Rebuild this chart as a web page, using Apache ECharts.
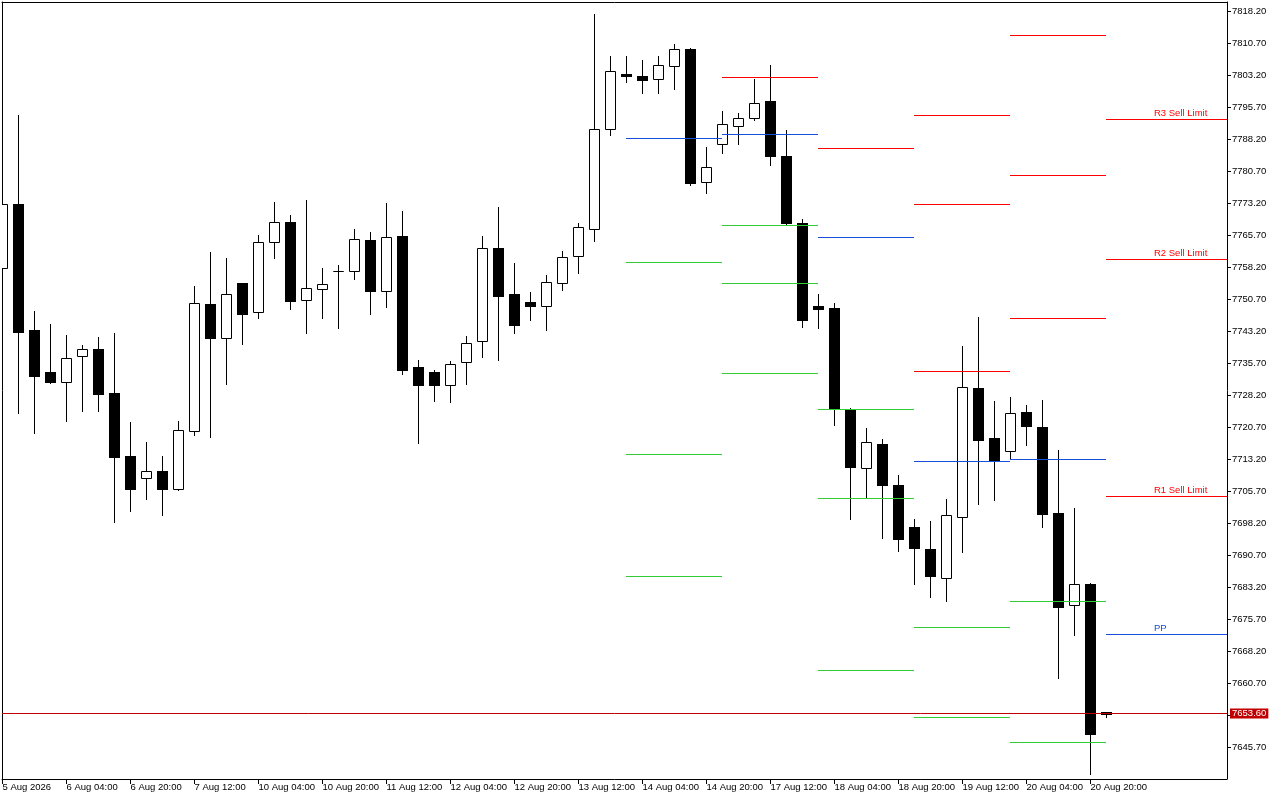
<!DOCTYPE html>
<html><head><meta charset="utf-8">
<script src="https://cdn.jsdelivr.net/npm/echarts@6/dist/echarts.min.js"></script>
<style>html,body{margin:0;padding:0;background:#fff}#c{width:1280px;height:800px}</style>
</head><body><div id="c"></div>
<script>
// ---- data (H4 bars, 5 Aug 12:00 .. 21 Aug 00:00) ----
const opens  = [7758.0,7773.2,7743.5,7733.6,7731.3,7737.4,7739.2,7728.7,7714.0,7708.9,
                7710.5,7706.3,7719.9,7749.6,7741.7,7754.5,7747.7,7764.3,7768.8,7750.7,
                7753.1,7757.4,7757.3,7764.6,7752.6,7765.6,7734.8,7733.8,7730.6,7736.0,
                7740.9,7762.9,7751.9,7750.1,7749.2,7754.6,7760.8,7767.2,7790.6,7803.6,
                7803.1,7802.5,7805.4,7809.4,7778.3,7787.2,7791.5,7793.2,7797.3,7784.4,
                7768.6,7749.2,7748.7,7725.0,7711.3,7716.9,7707.1,7697.3,7692.3,7685.5,
                7699.8,7729.9,7718.2,7715.1,7724.3,7720.9,7700.6,7679.0,7684.1,7653.9];
const highs  = [7775.0,7794.0,7748.0,7744.9,7742.4,7740.0,7741.9,7742.8,7722.0,7717.3,
                7714.0,7722.2,7753.9,7761.8,7760.4,7754.6,7765.8,7773.6,7770.5,7774.0,
                7758.0,7758.8,7767.2,7766.5,7773.3,7771.4,7736.5,7734.1,7736.2,7742.1,
                7765.6,7772.4,7759.2,7752.4,7756.4,7762.1,7768.6,7817.7,7807.8,7807.8,
                7806.9,7807.8,7810.6,7809.8,7786.5,7794.9,7794.4,7802.4,7805.7,7790.5,
                7769.7,7751.9,7749.8,7725.2,7720.5,7718.0,7709.5,7699.2,7698.7,7703.9,
                7739.8,7746.6,7726.9,7727.8,7725.9,7727.1,7715.4,7701.7,7684.2,7653.9];
const lows   = [7756.0,7724.1,7719.3,7731.2,7722.3,7724.6,7724.6,7698.6,7701.1,7704.0,
                7700.1,7706.0,7718.9,7718.5,7730.9,7740.3,7746.4,7760.5,7748.5,7742.8,
                7746.4,7744.1,7755.5,7747.4,7749.0,7733.3,7717.0,7727.0,7726.7,7730.9,
                7737.3,7736.5,7742.9,7746.0,7743.5,7753.0,7757.0,7764.5,7789.3,7801.8,
                7799.2,7799.2,7800.1,7777.6,7775.7,7785.1,7787.2,7792.9,7782.3,7768.2,
                7744.3,7744.1,7721.3,7699.3,7704.2,7694.8,7691.8,7684.1,7681.0,7680.1,
                7691.4,7702.8,7703.7,7713.4,7716.6,7697.4,7662.0,7672.1,7639.5,7652.9];
const closes = [7773.2,7743.1,7732.8,7731.4,7737.1,7739.2,7728.5,7713.8,7706.3,7710.5,
                7706.3,7720.2,7749.8,7741.7,7752.1,7747.4,7764.3,7768.8,7750.4,7753.3,
                7754.3,7757.4,7764.8,7752.8,7765.3,7734.2,7730.7,7730.7,7735.7,7740.6,
                7762.9,7751.6,7744.8,7749.2,7754.7,7760.6,7767.6,7790.6,7804.3,7803.2,
                7802.2,7805.6,7809.4,7778.1,7781.7,7791.8,7793.2,7796.9,7784.4,7768.7,
                7746.0,7748.4,7725.0,7711.5,7717.2,7707.2,7694.6,7692.5,7685.9,7700.1,
                7730.1,7717.8,7712.8,7724.0,7721.1,7700.4,7678.6,7684.1,7648.8,7653.6];

const xTickIndex  = [0,4,8,12,16,20,24,28,32,36,40,44,48,52,56,60,64,68];
const xTickLabels = ['5 Aug 2026','6 Aug 04:00','6 Aug 20:00','7 Aug 12:00','10 Aug 04:00','10 Aug 20:00',
                     '11 Aug 12:00','12 Aug 04:00','12 Aug 20:00','13 Aug 12:00','14 Aug 04:00','14 Aug 20:00',
                     '17 Aug 12:00','18 Aug 04:00','18 Aug 20:00','19 Aug 12:00','20 Aug 04:00','20 Aug 20:00'];

const yTickValues  = [7645.7,7653.2,7660.7,7668.2,7675.7,7683.2,7690.7,7698.2,7705.7,7713.2,7720.7,7728.2,
                      7735.7,7743.2,7750.7,7758.2,7765.7,7773.2,7780.7,7788.2,7795.7,7803.2,7810.7,7818.2];
const yLabelValues = [7645.7,7660.7,7668.2,7675.7,7683.2,7690.7,7698.2,7705.7,7713.2,7720.7,7728.2,
                      7735.7,7743.2,7750.7,7758.2,7765.7,7773.2,7780.7,7788.2,7795.7,7803.2,7810.7,7818.2];

// daily pivot segments: start bar of each day (14,17,18,19,20,21 Aug)
const pivotDayStart = [39,45,51,57,63,69];
const pivotR3 = [null,   null,   null,   7793.9, 7812.6, 7792.8];
const pivotR2 = [null,   null,   null,   7773.0, 7779.7, 7760.2];
const pivotR1 = [null,   7802.8, 7786.2, 7733.8, 7746.3, 7704.5];
const pivotPP = [7788.5, 7789.4, 7765.3, 7712.7, 7713.3, 7672.1];
const pivotS1 = [7759.3, 7768.1, 7724.9, 7673.8, 7679.8, null];
const pivotS2 = [7714.4, 7754.5, 7704.1, 7652.7, 7646.8, null];
const pivotS3 = [7685.8, 7733.4, 7663.7, null,   null,   null];

const levelLabels      = ['R3 Sell Limit','R2 Sell Limit','R1 Sell Limit','PP'];
const levelLabelValues = [7792.8, 7760.2, 7704.5, 7672.1];
const levelLabelBar    = 72;
const currentPrice = 7653.60;

// ---- layout ----
const yMin = 7638.27, yMax = 7820.47;
const xMin = -0.03125, xMax = 76.53125;
const FONT = "'Liberation Sans', Arial, sans-serif";
const FS = 9.5;
const RED = '#FF0000', BLUE = '#1450DC', GREEN = '#32CD32';

const candleData = opens.map((o,i)=>[i,o,highs[i],lows[i],closes[i]]);
const dayEnd = pivotDayStart.map((s,d)=> d<pivotDayStart.length-1 ? pivotDayStart[d+1] : xMax);
const levelDefs = [[pivotR3,0],[pivotR2,0],[pivotR1,0],[pivotPP,1],[pivotS1,2],[pivotS2,2],[pivotS3,2]];
const colors = [RED, BLUE, GREEN];
const pivotData = [];
levelDefs.forEach(([arr,ci])=>arr.forEach((v,d)=>{ if(v!=null) pivotData.push([pivotDayStart[d], dayEnd[d], v, ci]); }));
const labelData = levelLabels.map((t,k)=>[levelLabelBar, levelLabelValues[k], k]);

function renderCandle(params, api){
  const i=api.value(0), o=api.value(1), h=api.value(2), l=api.value(3), c=api.value(4);
  const pO=api.coord([i,o]), pH=api.coord([i,h]), pL=api.coord([i,l]), pC=api.coord([i,c]);
  const cx = Math.floor(pO[0]) + 0.5;
  const yTop = Math.round(Math.min(pO[1],pC[1])), yBot = Math.round(Math.max(pO[1],pC[1]));
  const children = [{type:'line', shape:{x1:cx,y1:Math.round(pH[1]),x2:cx,y2:Math.round(pL[1])+1}, style:{stroke:'#000',lineWidth:1}}];
  if (c >= o) {
    children.push({type:'rect', shape:{x:cx-5, y:yTop+0.5, width:10, height:Math.max(yBot-yTop,0)}, style:{fill:'#fff', stroke:'#000', lineWidth:1}});
  } else {
    children.push({type:'rect', shape:{x:cx-5.5, y:yTop, width:11, height:Math.max(yBot-yTop+1,1)}, style:{fill:'#000', stroke:null}});
  }
  return {type:'group', children};
}
function renderPivot(params, api){
  const s=api.value(0), e=api.value(1), v=api.value(2), ci=api.value(3);
  const p1=api.coord([s,v]), p2=api.coord([e,v]);
  const y = Math.floor(p1[1]) + 0.5;
  return {type:'line', shape:{x1:Math.floor(p1[0]), y1:y, x2:Math.floor(p2[0]), y2:y}, style:{stroke:colors[ci], lineWidth:1}};
}
function renderLabel(params, api){
  const k=api.value(2);
  const p=api.coord([api.value(0), api.value(1)]);
  return {type:'text', x:Math.floor(p[0]), y:Math.floor(p[1])-1,
    style:{text:levelLabels[k], fill: k===3?BLUE:RED, fontSize:FS, fontFamily:FONT, align:'left', verticalAlign:'bottom'}};
}

const chart = echarts.init(document.getElementById('c'), null, {renderer:'canvas', devicePixelRatio:1});
chart.setOption({
  animation:false,
  backgroundColor:'#fff',
  grid:{left:2, top:2, right:53, bottom:21, containLabel:false, outerBoundsMode:'none'},
  xAxis:[
    {type:'value', min:xMin, max:xMax, position:'bottom',
     axisLine:{show:true, onZero:false, lineStyle:{color:'#000', width:1}},
     axisTick:{show:true, customValues:xTickIndex, length:5, lineStyle:{color:'#000'}},
     axisLabel:{show:true, customValues:xTickIndex, align:'left', margin:3, color:'#000', fontSize:FS, fontFamily:FONT,
       formatter:(v)=>{const k=xTickIndex.indexOf(Math.round(v)); return k>=0?xTickLabels[k]:'';}},
     splitLine:{show:false}},
    {type:'value', min:xMin, max:xMax, position:'top',
     axisLine:{show:true, onZero:false, lineStyle:{color:'#000', width:1}},
     axisTick:{show:false}, axisLabel:{show:false}, splitLine:{show:false}}
  ],
  yAxis:[
    {type:'value', min:yMin, max:yMax, position:'right', scale:true,
     axisLine:{show:true, onZero:false, lineStyle:{color:'#000', width:1}},
     axisTick:{show:true, customValues:yTickValues, length:4, lineStyle:{color:'#000'}},
     axisLabel:{show:true, customValues:yLabelValues, margin:5, color:'#000', fontSize:FS, fontFamily:FONT,
       formatter:(v)=>v.toFixed(2)},
     splitLine:{show:false}},
    {type:'value', min:yMin, max:yMax, position:'left', scale:true,
     axisLine:{show:true, onZero:false, lineStyle:{color:'#000', width:1}},
     axisTick:{show:false}, axisLabel:{show:false}, splitLine:{show:false}}
  ],
  series:[
    {type:'custom', name:'candles', renderItem:renderCandle, data:candleData, clip:true, z:2,
     encode:{x:0, y:[1,2,3,4]}, xAxisIndex:0, yAxisIndex:0, silent:true},
    {type:'custom', name:'pivots', renderItem:renderPivot, data:pivotData, clip:true, z:3,
     encode:{x:[0,1], y:2}, xAxisIndex:0, yAxisIndex:0, silent:true,
     markLine:{silent:true, symbol:'none', animation:false, precision:2,
       lineStyle:{color:'#C00000', width:1, type:'solid'},
       label:{show:true, position:'end', distance:3, formatter:()=>currentPrice.toFixed(2),
         backgroundColor:'#C00000', color:'#fff', fontSize:FS, fontFamily:FONT, padding:[0,2,0,2], lineHeight:10},
       emphasis:{disabled:true},
       data:[{yAxis:currentPrice}]}},
    {type:'custom', name:'labels', renderItem:renderLabel, data:labelData, clip:false, z:4,
     encode:{x:0, y:1}, xAxisIndex:0, yAxisIndex:0, silent:true}
  ]
});
</script></body></html>
